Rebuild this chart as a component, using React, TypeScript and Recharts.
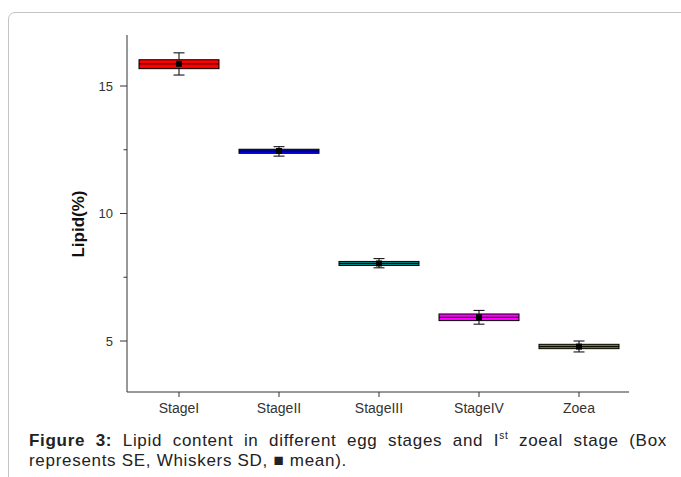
import { Bar, ComposedChart, XAxis, YAxis } from 'recharts'

const stages = ['StageI', 'StageII', 'StageIII', 'StageIV', 'Zoea']
const means = [15.87, 12.45, 8.04, 5.93, 4.78]
const seLow = [15.68, 12.36, 7.96, 5.8, 4.7]
const seHigh = [16.03, 12.52, 8.12, 6.06, 4.87]
const sdLow = [15.43, 12.25, 7.87, 5.66, 4.57]
const sdHigh = [16.3, 12.62, 8.23, 6.2, 5.0]
const boxColors = ['#FF0000', '#0000FF', '#008080', '#FF00FF', '#808000']
const yTicks = [5, 7.5, 10, 12.5, 15]

const data = stages.map((name, i) => ({
  name,
  mean: means[i],
  seLow: seLow[i],
  seHigh: seHigh[i],
  sdLow: sdLow[i],
  sdHigh: sdHigh[i],
  fill: boxColors[i],
}))

const font = '"Liberation Sans", Arial, sans-serif'

// box = SE, whiskers = SD, square = mean
function BoxShape(props: any) {
  const { x, y, width, height, payload } = props
  const p = payload
  const k = height / (p.sdHigh - p.sdLow)
  const toY = (v: number) => y + (p.sdHigh - v) * k
  const cx = x + width / 2
  const top = toY(p.seHigh)
  const bottom = toY(p.seLow)
  const my = toY(p.mean)
  return (
    <g>
      <line x1={cx} x2={cx} y1={toY(p.sdHigh)} y2={top} stroke="#000" />
      <line x1={cx} x2={cx} y1={bottom} y2={toY(p.sdLow)} stroke="#000" />
      <line x1={cx - 5.5} x2={cx + 5.5} y1={toY(p.sdHigh)} y2={toY(p.sdHigh)} stroke="#000" />
      <line x1={cx - 5.5} x2={cx + 5.5} y1={toY(p.sdLow)} y2={toY(p.sdLow)} stroke="#000" />
      <rect x={x} y={top} width={width} height={bottom - top} fill={p.fill} stroke="#000" strokeWidth={1} />
      <line x1={x} x2={x + width} y1={my} y2={my} stroke="#000" />
      <rect x={cx - 3} y={my - 3} width={6} height={6} fill="#000" />
    </g>
  )
}

function YTick(props: any) {
  const { x, y, payload } = props
  const major = Number.isInteger(payload.value)
  return (
    <g>
      <line x1={x - (major ? 7 : 3.5)} x2={x} y1={y} y2={y} stroke="#333" />
      {major && (
        <text x={x - 14} y={y} dy="0.35em" textAnchor="end" fontSize={13} fill="#333" fontFamily={font}>
          {payload.value}
        </text>
      )}
    </g>
  )
}

export default function App() {
  return (
    <div style={{ position: 'absolute', left: 0, top: 0, width: 681, height: 477, overflow: 'hidden', background: '#fff' }}>
      <div
        style={{
          position: 'absolute',
          left: 8,
          top: 12,
          width: 720,
          height: 520,
          border: '1px solid #c4c4c4',
          borderRadius: 7,
        }}
      />
      <div style={{ position: 'absolute', left: 0, top: 0 }}>
        <ComposedChart
          width={681}
          height={422}
          data={data}
          margin={{ top: 35, right: 52, bottom: 0, left: 0 }}
          barCategoryGap="10%"
        >
          <XAxis
            dataKey="name"
            height={30}
            stroke="#333"
            padding={{ left: 2, right: 0 }}
            tickSize={5}
            tickMargin={6}
            tick={{ fontSize: 14, fill: '#333', fontFamily: font }}
          />
          <YAxis
            type="number"
            domain={[3, 17]}
            ticks={yTicks}
            width={127}
            stroke="#333"
            tickLine={false}
            tickSize={0}
            tickMargin={0}
            tick={<YTick />}
          />
          <Bar
            dataKey={(d: any) => [d.sdLow, d.sdHigh]}
            shape={<BoxShape />}
            isAnimationActive={false}
          />
        </ComposedChart>
      </div>
      <div
        style={{
          position: 'absolute',
          left: 79,
          top: 224,
          transform: 'translate(-50%, -50%) rotate(-90deg)',
          fontFamily: font,
          fontWeight: 'bold',
          fontSize: 17,
          color: '#111',
          whiteSpace: 'nowrap',
        }}
      >
        Lipid(%)
      </div>
      <div
        style={{
          position: 'absolute',
          left: 29,
          top: 431,
          width: 638,
          fontFamily: font,
          fontSize: 17,
          letterSpacing: 0.7,
          lineHeight: '20px',
          color: '#222',
        }}
      >
        <div style={{ textAlign: 'justify', textAlignLast: 'justify', whiteSpace: 'nowrap' as any }}>
          <b>Figure 3:</b> Lipid content in different egg stages and I
          <sup style={{ fontSize: 10, lineHeight: 0 }}>st</sup> zoeal stage (Box
        </div>
        <div>represents SE, Whiskers SD, ■ mean).</div>
      </div>
    </div>
  )
}
